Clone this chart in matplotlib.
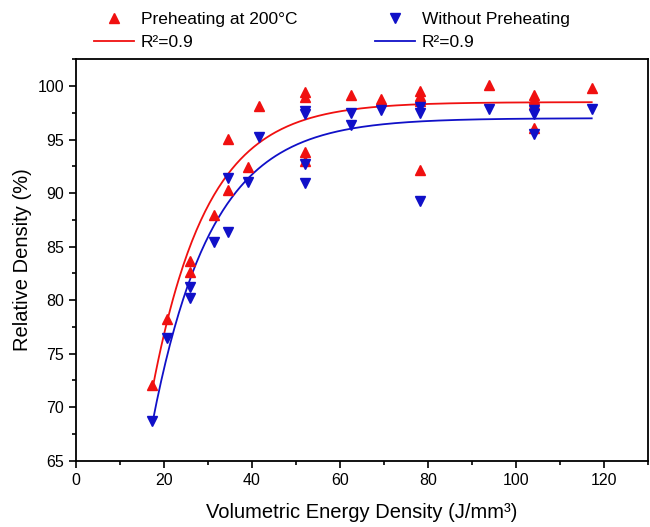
import numpy as np
import matplotlib.pyplot as plt
from matplotlib.ticker import MultipleLocator

plt.rcParams['font.family'] = ['Liberation Sans', 'DejaVu Sans']

# measured points, preheating at 200 C
energy_pre = [17.4, 20.8, 26.0, 26.0, 31.3, 34.7, 34.7, 39.1, 41.7,
              52.1, 52.1, 52.1, 52.1, 62.5, 69.4,
              78.1, 78.1, 78.1, 78.1, 93.8,
              104.2, 104.2, 104.2, 104.2, 117.2]
density_pre = [72.1, 78.2, 83.7, 82.6, 88.0, 90.3, 95.1, 92.4, 98.1,
               99.4, 99.0, 93.8, 93.0, 99.2, 98.8,
               99.5, 99.1, 98.6, 92.2, 100.1,
               99.2, 98.8, 98.3, 96.1, 99.8]

# measured points, without preheating
energy_nopre = [17.4, 20.8, 26.0, 26.0, 31.3, 34.7, 34.7, 39.1, 41.7,
                52.1, 52.1, 52.1, 52.1, 62.5, 62.5, 69.4,
                78.1, 78.1, 78.1, 93.8,
                104.2, 104.2, 104.2, 117.2]
density_nopre = [68.7, 76.5, 81.2, 80.2, 85.4, 91.4, 86.4, 91.0, 95.2,
                 97.7, 97.4, 92.7, 90.9, 97.5, 96.4, 97.8,
                 98.0, 97.5, 89.3, 97.9,
                 97.8, 97.4, 95.5, 97.9]

# exponential fit y = A - B*exp(-x/tau), parameters
fit_pre = (98.5, 109.3, 12.4)
fit_nopre = (97.0, 104.5, 13.4)

red = '#f01010'
blue = '#1010c8'

fig = plt.figure(figsize=(6.5, 5.27), dpi=100)
ax = fig.add_axes([0.1165, 0.1258, 0.8805, 0.7617])

xf = np.linspace(min(energy_pre), max(energy_pre), 300)
A, B, tau = fit_pre
ax.plot(xf, A - B * np.exp(-xf / tau), color=red, lw=1.3, label='R\u00b2=0.9', zorder=2)
A, B, tau = fit_nopre
ax.plot(xf, A - B * np.exp(-xf / tau), color=blue, lw=1.3, label='R\u00b2=0.9', zorder=2)

ax.plot(energy_pre, density_pre, '^', color=red, ms=7.5, ls='none',
        label='Preheating at 200\u00b0C', zorder=3)
ax.plot(energy_nopre, density_nopre, 'v', color=blue, ms=7.5, ls='none',
        label='Without Preheating', zorder=3)

h, l = ax.get_legend_handles_labels()
# column-wise: markers on top row, fit lines below
order = [2, 0, 3, 1]
fig.legend([h[i] for i in order], [l[i] for i in order], ncol=2,
           loc='upper left', bbox_to_anchor=(0.126, 1.0), frameon=False,
           fontsize=12.5, handlelength=2.3, handletextpad=0.4,
           columnspacing=4.45, labelspacing=0.45, borderpad=0.2)

ax.set_xlim(0, 130)
ax.set_ylim(65, 102.5)
ax.xaxis.set_major_locator(MultipleLocator(20))
ax.xaxis.set_minor_locator(MultipleLocator(10))
ax.yaxis.set_major_locator(MultipleLocator(5))
ax.yaxis.set_minor_locator(MultipleLocator(2.5))
ax.tick_params(which='both', direction='out', labelsize=11.5, width=1.2)
ax.tick_params(which='major', length=5)
ax.tick_params(which='minor', length=3)
for s in ax.spines.values():
    s.set_linewidth(1.3)

ax.set_xlabel('Volumetric Energy Density (J/mm\u00b3)', fontsize=14.5, labelpad=11)
ax.set_ylabel('Relative Density (%)', fontsize=14.5, labelpad=4)

fig.savefig('out.png', dpi=100)
